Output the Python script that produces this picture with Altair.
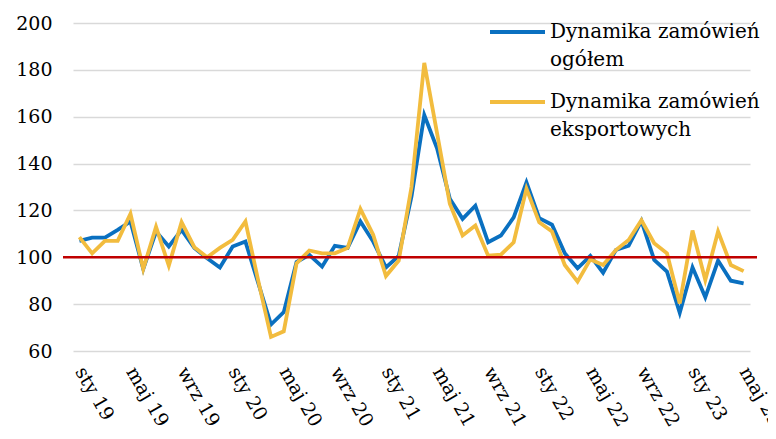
import altair as alt
import pandas as pd

month_names = ["sty", "lut", "mar", "kwi", "maj", "cze", "lip", "sie", "wrz", "paź", "lis", "gru"]
years = ["19", "20", "21", "22", "23"]
labels = [f"{m} {y}" for y in years for m in month_names][:53]

ogolem = [107, 108.4, 108.4, 111.7, 115.3, 95, 111, 104.6, 111.7, 104, 99.6, 95.6,
          104.6, 106.7, 89, 71.3, 76.6, 98, 101, 96, 104.9, 104, 115.3, 106.7,
          95.7, 100.6, 126, 160.7, 146.5, 125, 116.4, 122, 106.4, 109.3, 117, 132,
          116.7, 113.9, 101.7, 95.3, 100.6, 93.4, 103.1, 104.9, 115.5, 98.9, 93.9, 76.3,
          95.7, 82.9, 98.6, 90, 88.9]
eksport = [108.6, 101.7, 107, 107, 118.6, 95, 113, 96.4, 115, 104.3, 100, 104,
           107.4, 115.3, 90, 66, 68.4, 97.4, 102.9, 101.7, 101.7, 104, 120.6, 109.6,
           92, 98.6, 130, 183, 153, 122.9, 109.3, 113.6, 100.7, 101.1, 106.4, 129.3,
           114.9, 111, 96.7, 89.6, 99.1, 96.7, 103.1, 107.4, 115.8, 106, 101.7, 80.3,
           111.4, 90.3, 111, 96.7, 94.1]
y_ticks = [60, 80, 100, 120, 140, 160, 180, 200]
shown = labels[::4]
series_names = ["Dynamika zamówień ogółem", "Dynamika zamówień eksportowych"]

BLUE = "#0a70c0"
GOLD = "#f2bc3e"
RED = "#c00000"
FONT = "DejaVu Serif"
W, H = 677, 328

df = pd.DataFrame({"m": labels * 2,
                   "v": ogolem + eksport,
                   "s": [series_names[0]] * 53 + [series_names[1]] * 53,
                   "o": [0] * 53 + [1] * 53})

yscale = alt.Scale(domain=[60, 200], nice=False, zero=False)

x = alt.X("m:N", sort=labels,
          scale=alt.Scale(type="point", padding=0.5),
          axis=alt.Axis(values=shown, title=None, labelAngle=60, labelAlign="left",
                        labelBaseline="middle", labelPadding=17, ticks=False,
                        domain=False, grid=False, labelFont=FONT, labelFontSize=19,
                        labelColor="#000"))
y = alt.Y("v:Q", scale=yscale,
          axis=alt.Axis(values=y_ticks, title=None, ticks=False, domain=False,
                        grid=True, gridColor="#d9d9d9", gridWidth=1.6,
                        labelFont=FONT, labelFontSize=19, labelColor="#000",
                        labelPadding=21))

lines = alt.Chart(df).mark_line(strokeWidth=3.8, strokeJoin="miter").encode(
    x=x, y=y,
    color=alt.Color("s:N", scale=alt.Scale(domain=series_names, range=[BLUE, GOLD]),
                    legend=None),
    order=alt.Order("o:Q"),
    detail="s:N",
)

ref = alt.Chart(pd.DataFrame({"r": [100]})).mark_rule(color=RED, strokeWidth=2.5).encode(
    y=alt.Y("r:Q", scale=yscale),
    x=alt.value(-10), x2=alt.value(W + 7))


def legend_item(color, line1, line2, top):
    base = alt.Chart(pd.DataFrame({"a": [1]}))
    rule = base.mark_rule(strokeWidth=3.8, color=color).encode(
        x=alt.value(417), x2=alt.value(472), y=alt.value(top))
    t1 = base.mark_text(align="left", baseline="middle", font=FONT, fontSize=20,
                        color="#000", text=line1).encode(x=alt.value(477), y=alt.value(top))
    t2 = base.mark_text(align="left", baseline="middle", font=FONT, fontSize=20,
                        color="#000", text=line2).encode(x=alt.value(477), y=alt.value(top + 28))
    return [rule, t1, t2]


leg = legend_item(BLUE, "Dynamika zamówień", "ogółem", 9) + \
      legend_item(GOLD, "Dynamika zamówień", "eksportowych", 79)

chart = alt.layer(lines, ref, *leg).properties(
    width=W, height=H, autosize="none",
    padding={"left": 65, "top": 15, "right": 18, "bottom": 85},
).configure_view(stroke=None)

chart.save("out.html", embed_options={"renderer": "svg", "actions": False})
